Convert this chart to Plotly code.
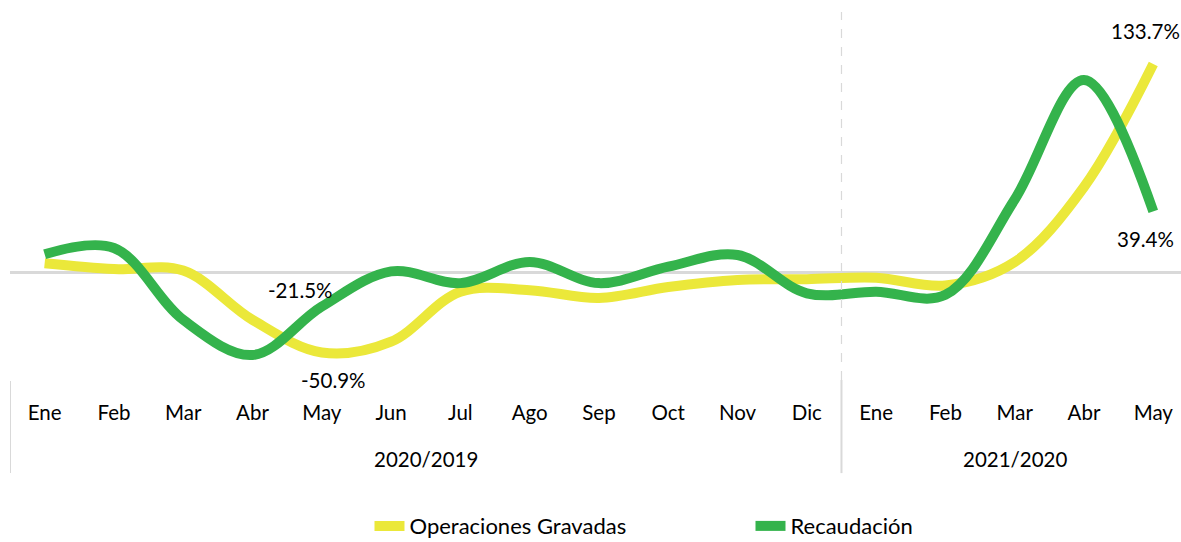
import plotly.graph_objects as go

months = ["Ene", "Feb", "Mar", "Abr", "May", "Jun", "Jul", "Ago", "Sep", "Oct", "Nov", "Dic",
          "Ene", "Feb", "Mar", "Abr", "May"]
periods = ["2020/2019", "2021/2020"]
period_sizes = [12, 5]

operaciones = [6.2, 2.5, 1.5, -30.0, -50.9, -44.0, -12.0, -11.0, -16.0, -9.0, -4.5, -4.0,
               -3.0, -8.0, 7.0, 55.0, 133.7]
recaudacion = [12.0, 16.0, -30.0, -52.5, -21.5, 1.0, -6.5, 7.0, -6.5, 4.0, 11.5, -13.0,
               -12.0, -14.0, 47.0, 123.5, 39.4]

yellow = "#EBE83A"
green = "#34B34C"
grid = "#D9D9D9"
font_family = "Lato, 'Open Sans', sans-serif"
fsize = 20.5

x = list(range(len(months)))

fig = go.Figure()
fig.add_trace(go.Scatter(x=x, y=operaciones, name="Operaciones Gravadas", mode="lines",
                         line=dict(color=yellow, width=10, shape="spline", smoothing=1.0)))
fig.add_trace(go.Scatter(x=x, y=recaudacion, name="Recaudación", mode="lines",
                         line=dict(color=green, width=10, shape="spline", smoothing=1.0)))

# data labels
labels = [
    (16, operaciones[16], "133.7%", -8, 33),
    (16, recaudacion[16], "39.4%", -8, -28),
    (4, recaudacion[4], "-21.5%", -21, 17),
    (4, operaciones[4], "-50.9%", 12, -27),
]
for xi, yi, txt, dx, dy in labels:
    fig.add_annotation(x=xi, y=yi, text=txt, showarrow=False, xshift=dx, yshift=dy,
                       font=dict(size=fsize, color="#000000", family=font_family))

# period labels
start = 0
for p, n in zip(periods, period_sizes):
    center = start + (n - 1) / 2
    fig.add_annotation(x=center, y=-0.252, yref="paper", text=p, showarrow=False,
                       font=dict(size=fsize, color="#000000", family=font_family))
    start += n

# dividers
fig.add_shape(type="line", x0=-0.5, x1=-0.5, y0=-0.003, y1=-0.253, yref="paper",
              line=dict(color=grid, width=2))
fig.add_shape(type="line", x0=11.5, x1=11.5, y0=0, y1=-0.253, yref="paper",
              line=dict(color=grid, width=2))
fig.add_shape(type="line", x0=11.5, x1=11.5, y0=0, y1=1, yref="paper",
              line=dict(color=grid, width=1.2, dash="dash"))

fig.update_layout(
    width=1181, height=542,
    margin=dict(l=9.5, r=0, t=12, b=162, autoexpand=False),
    plot_bgcolor="white", paper_bgcolor="white",
    font=dict(family=font_family, size=fsize, color="#000000"),
    showlegend=True,
    legend=dict(orientation="h", x=0.307, y=-0.397, xanchor="left", yanchor="middle",
                entrywidth=336, font=dict(size=22, family=font_family, color="#000000")),
    xaxis=dict(range=[-0.5, 16.4], tickmode="array", tickvals=x, ticktext=months,
               showgrid=False, zeroline=False, showline=False, ticks="",
               ticklabelstandoff=18, tickfont=dict(size=fsize), automargin=False),
    yaxis=dict(range=[-68.5, 167], showgrid=False, zeroline=True, zerolinecolor=grid,
               zerolinewidth=3, showticklabels=False, showline=False, ticks="",
               automargin=False),
)

fig.write_html("out.html", config={"displayModeBar": False},
               post_script="document.body.style.margin='0';")
